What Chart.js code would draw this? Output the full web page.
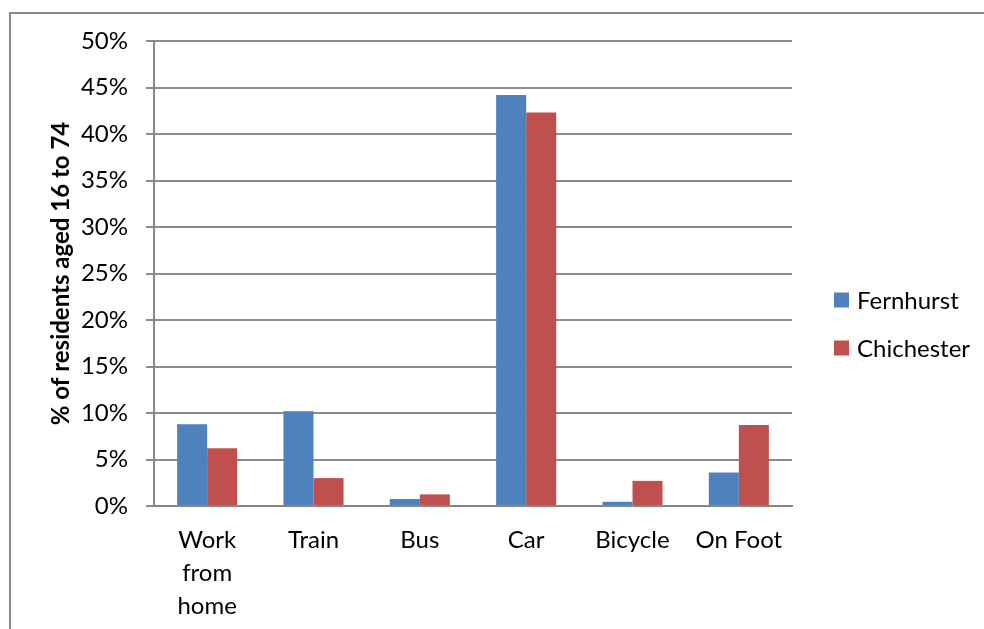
<!DOCTYPE html>
<html>
<head>
<meta charset="utf-8">
<script src="https://cdn.jsdelivr.net/npm/chart.js@4.4.1/dist/chart.umd.min.js"></script>
<style>
  html, body { margin: 0; padding: 0; background: #fff; }
  #wrap { width: 984px; height: 629px; position: relative; }
</style>
</head>
<body>
<div id="wrap"><canvas id="c" width="984" height="629"></canvas></div>
<script>
// Travel to work mode, share of residents aged 16 to 74
const categories = [["Work", "from", "home"], "Train", "Bus", "Car", "Bicycle", "On Foot"];
const fernhurst = [8.8, 10.2, 0.75, 44.2, 0.45, 3.6];
const chichester = [6.2, 3.0, 1.25, 42.3, 2.7, 8.7];
const seriesNames = ["Fernhurst", "Chichester"];
const seriesColors = ["#4F81BD", "#C0504D"];
const yTicks = [0, 5, 10, 15, 20, 25, 30, 35, 40, 45, 50];

const FONT = "Lato, 'Open Sans', sans-serif";

// Outer frame and the side legend
const decor = {
  id: "decor",
  beforeDraw(chart) {
    const ctx = chart.ctx;
    ctx.save();
    ctx.fillStyle = "#ffffff";
    ctx.fillRect(0, 0, chart.width, chart.height);
    ctx.restore();
  },
  afterDraw(chart) {
    const ctx = chart.ctx;
    ctx.save();
    ctx.strokeStyle = "#8a8a8a";
    ctx.lineWidth = 2;
    ctx.beginPath();
    ctx.moveTo(10, chart.height);
    ctx.lineTo(10, 13);
    ctx.lineTo(chart.width, 13);
    ctx.stroke();

    const x0 = chart.chartArea.right + 42;
    const yMid = 324;
    const gap = 48;
    ctx.font = "24px " + FONT;
    ctx.textBaseline = "middle";
    ctx.textAlign = "left";
    chart.data.datasets.forEach((ds, i) => {
      const y = yMid + (i - (chart.data.datasets.length - 1) / 2) * gap;
      ctx.fillStyle = ds.backgroundColor;
      ctx.fillRect(x0, y - 7.5, 15, 15);
      ctx.fillStyle = "#000";
      ctx.fillText(ds.label, x0 + 23, y + 1);
    });
    ctx.restore();
  }
};

new Chart(document.getElementById("c"), {
  type: "bar",
  data: {
    labels: categories,
    datasets: [
      { label: seriesNames[0], data: fernhurst, backgroundColor: seriesColors[0] },
      { label: seriesNames[1], data: chichester, backgroundColor: seriesColors[1] }
    ]
  },
  options: {
    responsive: false,
    animation: false,
    devicePixelRatio: 1,
    categoryPercentage: 0.565,
    barPercentage: 1,
    layout: { padding: { top: 41, right: 192, bottom: 0, left: 0 } },
    plugins: {
      legend: { display: false },
      tooltip: { enabled: false }
    },
    scales: {
      x: {
        grid: { display: false, drawTicks: false },
        border: { display: true, color: "#868686", width: 2 },
        ticks: {
          color: "#000",
          padding: 18,
          maxRotation: 0,
          autoSkip: false,
          font: { family: FONT, size: 24, lineHeight: 1.375 }
        },
        afterFit(scale) { scale.height = 123; }
      },
      y: {
        min: 0,
        max: 50,
        afterBuildTicks(scale) { scale.ticks = yTicks.map(v => ({ value: v })); },
        grid: { color: "#8c8c8c", lineWidth: 2, tickLength: 8, drawTicks: true },
        border: { display: true, color: "#868686", width: 2 },
        ticks: {
          color: "#000",
          padding: 18,
          font: { family: FONT, size: 24 },
          callback: v => v + "%"
        },
        title: {
          display: true,
          text: "% of residents aged 16 to 74",
          color: "#000",
          font: { family: FONT, size: 24, weight: "bold" },
          padding: { top: 47, bottom: 0 }
        },
        afterFit(scale) { scale.width = 154; }
      }
    }
  },
  plugins: [decor]
});
</script>
</body>
</html>
